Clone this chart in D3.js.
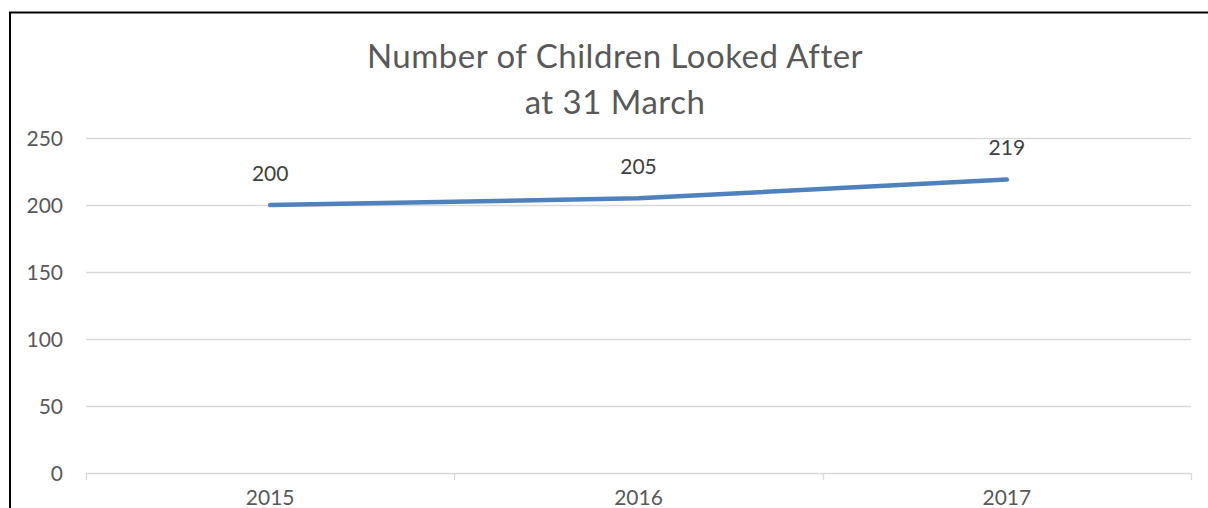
<!DOCTYPE html>
<html>
<head>
<meta charset="utf-8">
<script src="https://cdn.jsdelivr.net/npm/d3@7"></script>
<style>
  html, body { margin: 0; padding: 0; background: #fff; overflow: hidden; }
  text { font-family: Lato, "Open Sans", sans-serif; fill: #595959; }
</style>
</head>
<body>
<div id="chart"></div>
<script>
// chart data
const years = ["2015", "2016", "2017"];
const children = [200, 205, 219];
const yTicks = [0, 50, 100, 150, 200, 250];
const titleLines = ["Number of Children Looked After", "at 31 March"];

const W = 1208, H = 508;
const margin = { top: 138, right: 17, bottom: 35, left: 86 };

const svg = d3.select("#chart").append("svg")
    .attr("width", W)
    .attr("height", H);

// outer frame
svg.append("rect")
    .attr("x", 10)
    .attr("y", 12.5)
    .attr("width", 1215)
    .attr("height", 520)
    .attr("fill", "none")
    .attr("stroke", "#000")
    .attr("stroke-width", 2);

const x = d3.scaleBand()
    .domain(years)
    .range([margin.left, W - margin.right]);

const y = d3.scaleLinear()
    .domain([0, 250])
    .range([H - margin.bottom, margin.top]);

// gridlines
svg.append("g")
    .selectAll("line")
    .data(yTicks)
    .enter().append("line")
    .attr("x1", margin.left)
    .attr("x2", W - margin.right)
    .attr("y1", d => Math.round(y(d)) + 0.5)
    .attr("y2", d => Math.round(y(d)) + 0.5)
    .attr("stroke", "#d9d9d9")
    .attr("stroke-width", 1.3);

// y labels
svg.append("g")
    .selectAll("text")
    .data(yTicks)
    .enter().append("text")
    .attr("x", 63)
    .attr("y", d => y(d))
    .attr("dy", "0.36em")
    .attr("text-anchor", "end")
    .attr("font-size", "21px")
    .text(d => d);

// category ticks on the x axis
const bounds = years.map(d => x(d)).concat([x(years[years.length - 1]) + x.bandwidth()]);
svg.append("g")
    .selectAll("line")
    .data(bounds)
    .enter().append("line")
    .attr("x1", d => Math.round(d) + 0.5)
    .attr("x2", d => Math.round(d) + 0.5)
    .attr("y1", y(0))
    .attr("y2", y(0) + 7)
    .attr("stroke", "#d9d9d9")
    .attr("stroke-width", 1.3);

// x labels (kept just inside the bottom edge)
svg.append("g")
    .selectAll("text")
    .data(years)
    .enter().append("text")
    .attr("x", d => x(d) + x.bandwidth() / 2)
    .attr("y", 505)
    .attr("text-anchor", "middle")
    .attr("font-size", "21px")
    .text(d => d);

// the line
const line = d3.line()
    .x((d, i) => x(years[i]) + x.bandwidth() / 2)
    .y(d => y(d));

svg.append("path")
    .datum(children)
    .attr("d", line)
    .attr("fill", "none")
    .attr("stroke", "#4f81bd")
    .attr("stroke-width", 4.5)
    .attr("stroke-linecap", "round")
    .attr("stroke-linejoin", "round");

// data labels
svg.append("g")
    .selectAll("text")
    .data(children)
    .enter().append("text")
    .attr("x", (d, i) => x(years[i]) + x.bandwidth() / 2)
    .attr("y", d => y(d) - 24.5)
    .attr("text-anchor", "middle")
    .attr("font-size", "21px")
    .style("fill", "#404040")
    .text(d => d);

// title
svg.append("text")
    .attr("x", 615)
    .attr("y", 68)
    .attr("text-anchor", "middle")
    .attr("font-size", "33px")
    .attr("letter-spacing", "0.5px")
    .selectAll("tspan")
    .data(titleLines)
    .enter().append("tspan")
    .attr("x", 615)
    .attr("dy", (d, i) => i === 0 ? 0 : 46)
    .text(d => d);
</script>
</body>
</html>
